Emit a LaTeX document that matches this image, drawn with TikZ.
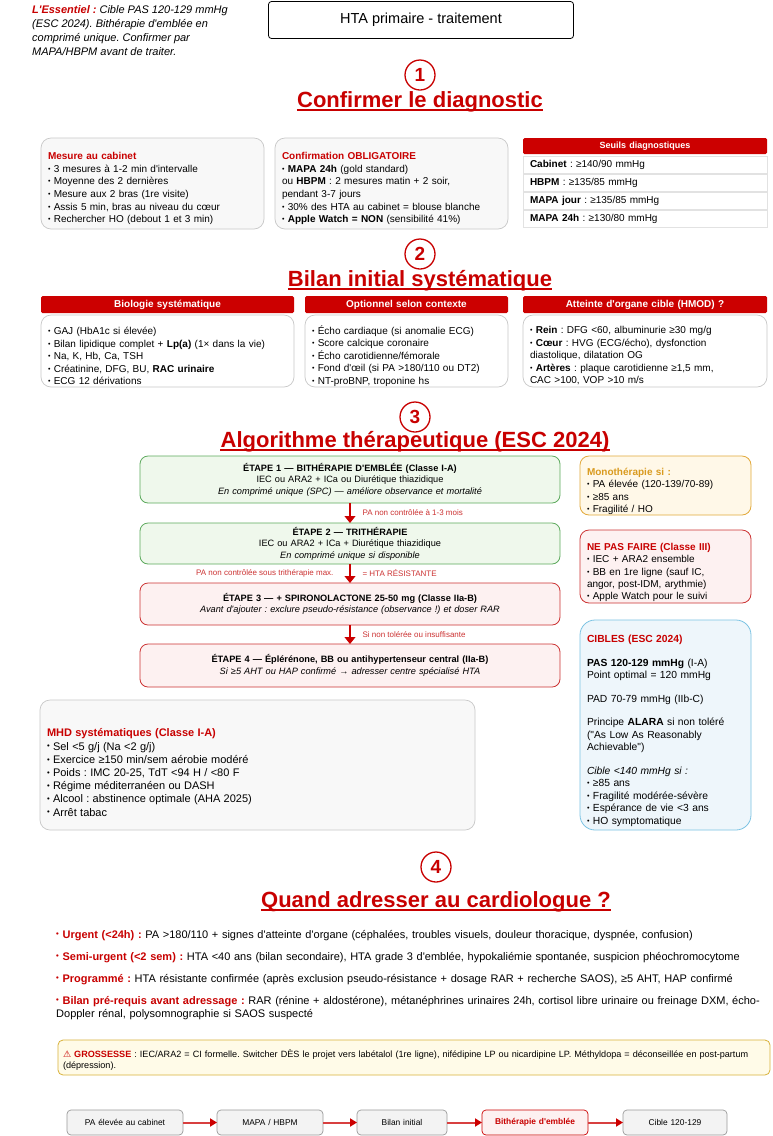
\documentclass[tikz,border=0pt]{standalone}
\usepackage{fontspec}
\setmainfont{Liberation Sans}[Ligatures=TeXOff]
\newfontfamily\symbole{DejaVu Sans}
\usetikzlibrary{arrows.meta}
\definecolor{rouge}{HTML}{C80000}
\definecolor{rougebar}{HTML}{CC0000}
\definecolor{rougebord}{HTML}{CC3333}
\definecolor{rougetrait}{HTML}{D84040}
\definecolor{rosefond}{HTML}{FDF1F1}
\definecolor{vertbord}{HTML}{5DAA5D}
\definecolor{vertfond}{HTML}{EFF8EC}
\definecolor{orbord}{HTML}{E2A93B}
\definecolor{ortexte}{HTML}{D99A1E}
\definecolor{orfond}{HTML}{FFF8E8}
\definecolor{bleubord}{HTML}{7CC3E3}
\definecolor{bleufond}{HTML}{EEF6FB}
\definecolor{grisbord}{HTML}{C8C8C8}
\definecolor{grisclair}{HTML}{E2E2E2}
\definecolor{grisfond}{HTML}{F8F8F8}
\definecolor{grisflux}{HTML}{F3F3F3}
\definecolor{grisfluxbord}{HTML}{9A9A9A}
\definecolor{jaunebord}{HTML}{D8B23A}
\definecolor{jaunefond}{HTML}{FFFBE8}
\newcommand{\taille}[2]{\fontsize{#1}{#2}\selectfont}
\newcommand{\cadre}[7]{\node[#2, anchor=north west, minimum width=#5, minimum height=#6,
	text width=#5-14] (#1) at (#3,#4) {#7}}
\newcommand{\souligne}[1]{\draw[rouge, line width=1.5pt] ([yshift=-2.8pt]#1.base west)
	-- ([yshift=-2.8pt]#1.base east)}
\newcommand{\titrerouge}[1]{{\color{rouge}\bfseries #1}}
\newcommand{\puce}{\raisebox{0.1em}{\scalebox{0.7}{•}}}
\newcommand{\decale}[1]{\par\kern-#1\relax}

\begin{document}
\frenchspacing
\begin{tikzpicture}[x=1pt, y=-1pt,
	boite/.style={inner xsep=7pt, inner ysep=0pt, outer sep=0pt, line width=0.7pt},
	cadregris/.style={boite, draw=grisbord, fill=grisfond, rounded corners=10pt, align=left, font=\taille{10}{12.7}},
	cadreblanc/.style={boite, draw=grisbord, fill=white, rounded corners=10pt, align=left, font=\taille{10}{12.5}},
	entete/.style={boite, fill=rougebar, text=white, rounded corners=1.5pt, align=center, font=\bfseries\taille{10}{12}},
	ligne/.style={boite, draw=grisclair, fill=white, align=left, font=\taille{10}{12}},
	etapeverte/.style={boite, draw=vertbord, fill=vertfond, rounded corners=8pt, align=center, font=\taille{9.2}{11.5}, line width=0.8pt},
	etaperouge/.style={boite, draw=rougebord, fill=rosefond, rounded corners=8pt, align=center, font=\taille{9.2}{11.5}, line width=0.8pt},
	cadrejaune/.style={boite, draw=orbord, fill=orfond, rounded corners=9pt, align=left, font=\taille{10}{12.4}, line width=0.8pt},
	cadrerose/.style={boite, draw=rougebord, fill=rosefond, rounded corners=9pt, align=left, font=\taille{10}{12.4}, line width=0.8pt},
	cadrebleu/.style={boite, draw=bleubord, fill=bleufond, rounded corners=15pt, align=left, font=\taille{10.3}{12.5}, line width=0.8pt},
	cadregross/.style={boite, inner xsep=5pt, draw=jaunebord, fill=jaunefond, rounded corners=5pt, align=left, font=\taille{9.1}{11}, line width=0.8pt},
	flux/.style={boite, draw=grisfluxbord, fill=grisflux, rounded corners=4pt, align=center, font=\taille{8.4}{10}},
	fluxrouge/.style={flux, draw=rougebar, fill=rosefond, text=rouge, font=\bfseries\taille{8.4}{10}},
	num/.style={circle, draw=rouge, line width=1.3pt, minimum size=30, inner sep=0pt, text=rouge, font=\bfseries\taille{19}{19}},
	titre/.style={inner sep=0pt, text=rouge, font=\bfseries\taille{22}{24}},
	etiq/.style={inner sep=0pt, text=rougebord, font=\taille{8}{9}},
	fleche/.style={draw=rougebar, line width=1.1pt, -{Triangle[length=7pt,width=11pt]}},
	fluxfleche/.style={draw=rougetrait, line width=2pt, -{Triangle[length=7pt,width=8pt,color=rougebar]}}]
%Page
	\fill[white] (0,0) rectangle (772,1136);
	\useasboundingbox (0,0) rectangle (772,1136);
%Header
	\node[inner sep=0pt, align=left, font=\itshape\taille{11}{14}, anchor=north west] (essentiel) at (32,5)
		{\titrerouge{L'Essentiel :} Cible PAS 120-129 mmHg\\(ESC 2024). Bithérapie d'emblée en\\comprimé unique. Confirmer par\\MAPA/HBPM avant de traiter.};
	\node[draw, rounded corners=3pt, line width=0.8pt, minimum width=305, minimum height=37,
		font=\taille{14.5}{17}] (titre) at (421,20) {HTA primaire - traitement};
%Section 1
	\node[num] (n1) at (420,75) {1};
	\node[titre, anchor=base] (t1) at (420,107) {Confirmer le diagnostic};
	\souligne{t1};
	\cadre{cabinet}{cadregris}{41}{138}{223}{91}{\titrerouge{Mesure au cabinet}\\
		\puce{} 3 mesures à 1-2 min d'intervalle\\\puce{} Moyenne des 2 dernières\\\puce{} Mesure aux 2 bras (1re visite)\\
		\puce{} Assis 5 min, bras au niveau du cœur\\\puce{} Rechercher HO (debout 1 et 3 min)\decale{10pt}};
	\cadre{confirm}{cadregris}{275}{138}{233}{91}{\titrerouge{Confirmation OBLIGATOIRE}\\
		\puce{} \textbf{MAPA 24h} (gold standard)\\ou \textbf{HBPM} : 2 mesures matin + 2 soir,\\pendant 3-7 jours\\
		\puce{} 30\% des HTA au cabinet = blouse blanche\\\puce{} \textbf{Apple Watch = NON} (sensibilité 41\%)\decale{10pt}};
	\cadre{seuils}{entete}{523}{138}{244}{16}{\taille{9}{10}Seuils diagnostiques};
	\cadre{seuilA}{ligne}{523}{156}{244}{17}{\textbf{Cabinet} : ≥140/90 mmHg};
	\cadre{seuilB}{ligne}{523}{174}{244}{17}{\textbf{HBPM} : ≥135/85 mmHg};
	\cadre{seuilC}{ligne}{523}{192}{244}{17}{\textbf{MAPA jour} : ≥135/85 mmHg};
	\cadre{seuilD}{ligne}{523}{210}{244}{17}{\textbf{MAPA 24h} : ≥130/80 mmHg};
%Section 2
	\node[num] (n2) at (420,254) {2};
	\node[titre, anchor=base] (t2) at (420,286) {Bilan initial systématique};
	\souligne{t2};
	\cadre{hbio}{entete}{41}{296}{253}{17}{Biologie systématique};
	\cadre{hopt}{entete}{305}{296}{203}{17}{Optionnel selon contexte};
	\cadre{hhmod}{entete}{523}{296}{244}{17}{Atteinte d'organe cible (HMOD) ?};
	\cadre{bio}{cadreblanc}{41}{315}{253}{72}{\puce{} GAJ (HbA1c si élevée)\\
		\puce{} Bilan lipidique complet + \textbf{Lp(a)} (1× dans la vie)\\\puce{} Na, K, Hb, Ca, TSH\\
		\puce{} Créatinine, DFG, BU, \textbf{RAC urinaire}\\\puce{} ECG 12 dérivations\decale{10pt}};
	\cadre{opt}{cadreblanc}{305}{315}{203}{72}{\puce{} Écho cardiaque (si anomalie ECG)\\
		\puce{} Score calcique coronaire\\\puce{} Écho carotidienne/fémorale\\
		\puce{} Fond d'œil (si PA >180/110 ou DT2)\\\puce{} NT-proBNP, troponine hs\decale{10pt}};
	\cadre{hmod}{cadreblanc}{523}{315}{244}{72}{\puce{} \textbf{Rein} : DFG <60, albuminurie ≥30 mg/g\\
		\puce{} \textbf{Cœur} : HVG (ECG/écho), dysfonction\\diastolique, dilatation OG\\
		\puce{} \textbf{Artères} : plaque carotidienne ≥1,5 mm,\\CAC >100, VOP >10 m/s\decale{10pt}};
%Section 3
	\node[num] (n3) at (415,417) {3};
	\node[titre, anchor=base] (t3) at (415,447) {Algorithme thérapeutique (ESC 2024)};
	\souligne{t3};
	\cadre{e1}{etapeverte}{140}{456}{420}{47}{\textbf{ÉTAPE 1 — BITHÉRAPIE D'EMBLÉE (Classe I-A)}\\
		IEC ou ARA2 + ICa ou Diurétique thiazidique\\
		\textit{En comprimé unique (SPC) — améliore observance et mortalité}};
	\cadre{e2}{etapeverte}{140}{523}{420}{41}{\textbf{ÉTAPE 2 — TRITHÉRAPIE}\\
		IEC ou ARA2 + ICa + Diurétique thiazidique\\\textit{En comprimé unique si disponible}};
	\cadre{e3}{etaperouge}{140}{583}{420}{42}{\textbf{ÉTAPE 3 — + SPIRONOLACTONE 25-50 mg (Classe IIa-B)}\\
		\textit{Avant d'ajouter : exclure pseudo-résistance (observance !) et doser RAR}};
	\cadre{e4}{etaperouge}{140}{644}{420}{43}{\textbf{ÉTAPE 4 — Éplérénone, BB ou antihypertenseur central (IIa-B)}\\
		\textit{Si ≥5 AHT ou HAP confirmé → adresser centre spécialisé HTA}};
	\draw[fleche] (e1) -- node[etiq, right=12pt] (l1) {PA non contrôlée à 1-3 mois} (e2);
	\draw[fleche] (e2) -- node[etiq, left=16pt] (l2) {PA non contrôlée sous trithérapie max.}
		node[etiq, right=12pt] (l2b) {= HTA RÉSISTANTE} (e3);
	\draw[fleche] (e3) -- node[etiq, right=12pt] (l3) {Si non tolérée ou insuffisante} (e4);
%Side boxes
	\cadre{mono}{cadrejaune}{580}{456}{171}{59}{{\color{ortexte}\bfseries Monothérapie si :}\\
		\puce{} PA élevée (120-139/70-89)\\\puce{} ≥85 ans\\\puce{} Fragilité / HO\decale{12pt}};
	\cadre{npf}{cadrerose}{580}{530}{171}{73}{\titrerouge{NE PAS FAIRE (Classe III)}\\
		\puce{} IEC + ARA2 ensemble\\\puce{} BB en 1re ligne (sauf IC,\\angor, post-IDM, arythmie)\\\puce{} Apple Watch pour le suivi\decale{12pt}};
	\cadre{cibles}{cadrebleu}{580}{620}{171}{210}{\titrerouge{CIBLES (ESC 2024)}\\[11pt]
		\textbf{PAS 120-129 mmHg} (I-A)\\Point optimal = 120 mmHg\\[11pt]
		PAD 70-79 mmHg (IIb-C)\\[11pt]
		Principe \textbf{ALARA} si non toléré\\("As Low As Reasonably\\Achievable")\\[11pt]
		\textit{Cible <140 mmHg si :}\\\puce{} ≥85 ans\\\puce{} Fragilité modérée-sévère\\\puce{} Espérance de vie <3 ans\\\puce{} HO symptomatique\decale{12pt}};
	\cadre{mhd}{cadregris}{40}{700}{435}{130}{\taille{11}{13.2}\titrerouge{MHD systématiques (Classe I-A)}\\
		\puce{} Sel <5 g/j (Na <2 g/j)\\\puce{} Exercice ≥150 min/sem aérobie modéré\\
		\puce{} Poids : IMC 20-25, TdT <94 H / <80 F\\\puce{} Régime méditerranéen ou DASH\\
		\puce{} Alcool : abstinence optimale (AHA 2025)\\\puce{} Arrêt tabac\decale{15pt}};
%Section 4
	\node[num] (n4) at (436,867) {4};
	\node[titre, anchor=base] (t4) at (436,907) {Quand adresser au cardiologue ?};
	\souligne{t4};
	\node[inner sep=0pt, align=left, text width=716, font=\taille{11}{13}, anchor=base west] (adresser) at (56,938)
		{\titrerouge{\puce{} Urgent (<24h) :} PA >180/110 + signes d'atteinte d'organe (céphalées, troubles visuels, douleur thoracique, dyspnée, confusion)\\[9pt]
		\titrerouge{\puce{} Semi-urgent (<2 sem) :} HTA <40 ans (bilan secondaire), HTA grade 3 d'emblée, hypokaliémie spontanée, suspicion phéochromocytome\\[9pt]
		\titrerouge{\puce{} Programmé :} HTA résistante confirmée (après exclusion pseudo-résistance + dosage RAR + recherche SAOS), ≥5 AHT, HAP confirmé\\[9pt]
		\titrerouge{\puce{} Bilan pré-requis avant adressage :} RAR (rénine + aldostérone), métanéphrines urinaires 24h, cortisol libre urinaire ou freinage DXM, écho-\\
		Doppler rénal, polysomnographie si SAOS suspecté};
%Pregnancy
	\node[cadregross, anchor=north west, minimum width=712, minimum height=35, text width=702] (grossesse) at (58,1040)
		{{\symbole\color{rouge}⚠} \titrerouge{GROSSESSE} : IEC/ARA2 = CI formelle.
		Switcher DÈS le projet vers labétalol (1re ligne), nifédipine LP ou nicardipine LP. Méthyldopa = déconseillée en post-partum\\(dépression).\decale{4pt}};
%Pathway
	\cadre{f1}{flux}{67}{1110}{116}{25}{PA élevée au cabinet};
	\cadre{f2}{flux}{217}{1110}{106}{25}{MAPA / HBPM};
	\cadre{f3}{flux}{357}{1110}{90}{25}{Bilan initial};
	\cadre{f4}{fluxrouge}{482}{1110}{106}{25}{Bithérapie d'emblée};
	\cadre{f5}{flux}{623}{1110}{104}{25}{Cible 120-129};
	\draw[fluxfleche] (f1) -- (f2);
	\draw[fluxfleche] (f2) -- (f3);
	\draw[fluxfleche] (f3) -- (f4);
	\draw[fluxfleche] (f4) -- (f5);
\end{tikzpicture}
\end{document}
